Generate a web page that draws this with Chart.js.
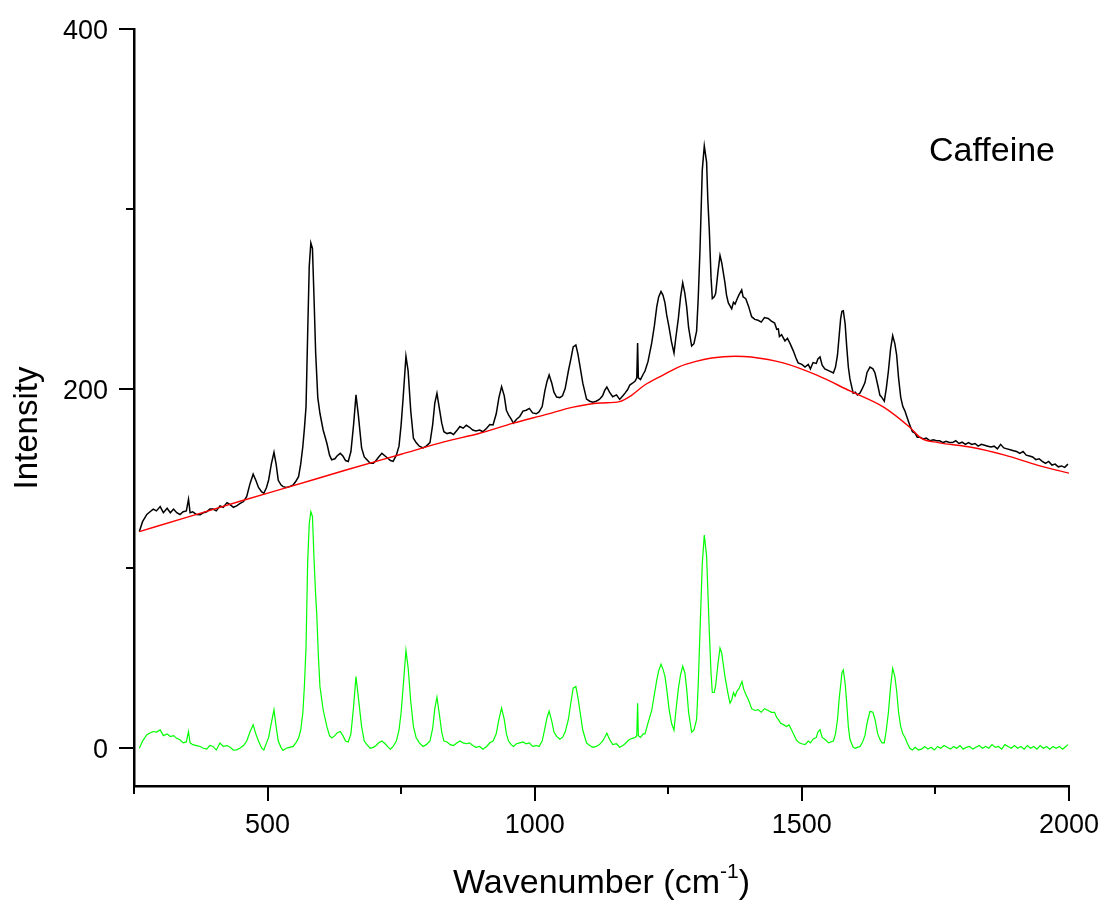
<!DOCTYPE html>
<html lang="en">
<head>
    <meta charset="UTF-8">
    <title>Caffeine Raman spectrum</title>
    <script src="https://cdn.jsdelivr.net/npm/chart.js"></script>
    <style>
        body { margin: 0; background: #fff; }
        #spectrum { display: block; }
    </style>
</head>
<body>
    <canvas id="spectrum" width="1103" height="901"></canvas>

    <script>
        // measured spectrum (black)
        const rawX = [260, 266, 274, 280, 286, 292, 299, 305, 312, 318, 324, 330, 336, 342, 348, 352, 355, 360, 367, 374,
            380, 386, 392, 398, 404, 411, 417, 424, 430, 436, 442, 448, 455, 461, 467, 473, 478, 483, 489, 493,
            498, 502, 507, 512, 516, 520, 525, 529, 535, 541, 548, 553, 558, 562, 566, 569, 572, 575, 578, 581,
            584, 587, 590, 594, 598, 604, 611, 616, 620, 626, 630, 636, 641, 646, 651, 656, 661, 665.5, 670, 676,
            681, 686, 692, 698, 703, 708, 714, 720, 726, 730, 735, 741, 746, 750, 754, 759, 763, 768, 773, 778,
            784, 791, 797, 804, 809, 813, 817, 821, 826, 830, 836, 842, 848, 855, 860, 866, 872, 878, 884, 890,
            897, 903, 910, 916, 922, 928, 933, 938, 943, 947, 951, 956, 960, 966, 972, 978, 984, 990, 996, 1003,
            1008, 1014, 1019, 1023, 1027, 1032, 1036, 1041, 1047, 1052, 1057, 1063, 1068, 1072, 1077, 1081, 1085, 1090, 1097, 1103,
            1109, 1115, 1121, 1127, 1131, 1135, 1140, 1146, 1153, 1159, 1165, 1169, 1174, 1178, 1183, 1188, 1191, 1192.6, 1194, 1198,
            1203, 1206.4, 1212, 1219, 1224, 1228.4, 1232, 1236.4, 1240, 1243.8, 1247, 1251.3, 1256, 1260.7, 1264, 1268.8, 1273, 1277, 1281, 1284.4,
            1288, 1293.7, 1298, 1303, 1306, 1309.3, 1313.6, 1317.4, 1321.7, 1324, 1326.8, 1330, 1332.4, 1336, 1338.7, 1343, 1346.8, 1350, 1356, 1359,
            1362.4, 1368.7, 1372, 1375, 1379, 1382, 1387.4, 1390, 1395, 1400, 1406, 1412, 1418, 1424, 1430, 1437, 1443, 1449, 1453, 1456,
            1458, 1462, 1468.4, 1473, 1478, 1484, 1489, 1493, 1500, 1505.9, 1512, 1516, 1521, 1527, 1530, 1534, 1538, 1543, 1550, 1559,
            1563, 1566.7, 1570, 1572.6, 1575, 1577.6, 1581, 1584, 1587, 1590, 1596, 1600, 1604, 1608.8, 1613, 1618, 1622, 1627.5, 1633, 1636.9,
            1642, 1646, 1650, 1654.3, 1658, 1662, 1666, 1670, 1674, 1677.4, 1681, 1685, 1689, 1693, 1697, 1702, 1707, 1711.7, 1716, 1721,
            1727, 1733, 1740, 1746, 1752, 1758, 1764, 1770, 1776, 1782, 1788, 1794, 1800, 1806, 1812, 1818, 1824, 1830, 1836, 1842,
            1848, 1854, 1860, 1866, 1872, 1878, 1884, 1890, 1896, 1902, 1908, 1914, 1920, 1926, 1932, 1938, 1944, 1950, 1956, 1962,
            1968, 1974, 1980, 1986, 1992, 1998];
        const rawY = [120.5, 126, 130, 131.5, 133, 132, 134.4, 131, 133.5, 131, 133, 131, 130, 131.5, 132, 138.5, 131, 131.5, 130, 129.8,
            131, 131.5, 133, 133, 132, 134.8, 134, 136.6, 135.5, 134, 134.8, 136, 137.2, 140, 147, 152.4, 149, 145, 142.5, 141.8,
            145, 149.2, 158, 164.6, 158, 149, 146.5, 145.5, 145, 145.5, 146.5, 148.5, 151, 158, 167.8, 178, 190, 230, 268, 281,
            278, 250, 220, 195, 186.3, 177, 169.6, 163, 160.4, 161, 162.5, 164, 162.5, 160, 159.5, 165, 180, 196.5, 185, 167,
            162, 160.4, 158.5, 158.5, 160, 162, 164, 162.5, 161, 160, 159.5, 163, 168, 180, 196, 218, 210, 187.5, 172.4, 170,
            168, 167, 168, 170, 180, 192, 197.4, 190, 180.8, 176, 175, 175.5, 174.5, 177, 178.9, 178, 179.7, 178.5, 177, 176.5,
            177, 176, 178, 180, 179.8, 186, 195, 201.1, 196, 188, 185.4, 183, 180.8, 183, 184.5, 187.5, 188, 189, 186.5, 186,
            187, 190, 198.7, 204, 207.6, 203, 198, 195.3, 195, 196, 200, 209.8, 217, 223.2, 224.3, 219, 212, 203, 194.2, 193,
            192.5, 193, 194, 196, 199, 200.9, 198, 195.5, 196.5, 194, 196, 197.5, 199.5, 202, 203, 204.2, 206, 225.4, 206, 205,
            208, 209.8, 215, 225.4, 235, 245.5, 251, 254, 252, 247.7, 241, 234.3, 226, 219.8, 228, 238.9, 251, 258.9, 253, 245.5,
            234, 223.7, 225, 232, 250, 276.8, 321.5, 335, 326, 305, 288, 262, 250, 251, 253, 265, 274, 270, 259, 252,
            247.7, 244.4, 248, 247, 250, 252, 254.9, 251, 250, 246, 240, 238.5, 238, 237, 239.5, 239, 237.5, 236.5, 233, 233.2,
            229, 230, 226.5, 228, 225, 221, 217, 214.3, 213.5, 212, 213.5, 211, 214.5, 214, 216.5, 217.6, 213, 211, 210, 208.7,
            212, 218.7, 230, 238.9, 243, 243.3, 236, 223.2, 212, 205.4, 197.5, 198, 196.5, 197.5, 200, 203.2, 209, 212, 211, 208.7,
            202, 196.4, 195, 193, 200, 209.8, 222, 229.5, 225, 218.7, 206, 195.3, 190, 187.5, 184, 179.7, 176, 175.2, 173, 173,
            172, 172.5, 171, 171.5, 171, 171, 170, 170.7, 170, 170, 171, 169.5, 170.2, 169, 170, 169, 169.5, 168, 169, 168.5,
            168, 167.5, 168, 166.5, 169, 167, 166.5, 166, 165.5, 165, 164, 165, 163, 162.5, 162, 160.5, 161, 159.5, 158.4, 159.5,
            157.5, 158, 156.5, 157, 156.2, 158];

        // fitted background (red)
        const baseX = [260, 350, 450, 542, 650, 750, 832, 897, 960, 1020, 1072, 1122, 1159, 1180, 1206, 1240, 1269, 1300, 1331, 1375,
            1405, 1465, 1527, 1590, 1653, 1702, 1724, 1755, 1817, 1880, 1942, 2000];
        const baseY = [120.5, 128.5, 137.5, 145.5, 155, 163.5, 170.5, 175.2, 180.8, 185.5, 189.7, 192, 192.8, 196, 202, 207.5, 212, 215, 217, 218,
            217.6, 214.3, 207.6, 198.7, 189.7, 178.5, 172.3, 170, 167.4, 163, 157.3, 153];

        // background-subtracted spectrum (green)
        const corrX = [260, 266, 274, 280, 286, 292, 299, 305, 312, 318, 324, 330, 336, 342, 348, 352, 355, 360, 367, 374,
            380, 386, 392, 398, 404, 411, 417, 424, 430, 436, 442, 448, 455, 461, 467, 473, 478, 483, 489, 493,
            498, 502, 507, 512, 516, 520, 525, 529, 535, 541, 548, 553, 558, 562, 566, 569, 572, 575, 578, 581,
            584, 587, 590, 592, 595, 598, 604, 611, 616, 620, 626, 630, 636, 641, 646, 651, 656, 661, 665.5, 670,
            676, 681, 686, 692, 698, 703, 708, 714, 720, 726, 730, 735, 741, 746, 750, 754, 759, 763, 768, 773,
            778, 784, 791, 797, 804, 809, 813, 817, 821, 826, 830, 836, 842, 848, 855, 860, 866, 872, 878, 884,
            890, 897, 903, 910, 916, 922, 928, 933, 938, 943, 947, 951, 956, 960, 966, 972, 978, 984, 990, 996,
            1003, 1008, 1014, 1019, 1023, 1027, 1032, 1036, 1041, 1047, 1052, 1057, 1063, 1068, 1072, 1077, 1081, 1085, 1090, 1097,
            1103, 1109, 1115, 1121, 1127, 1131, 1135, 1140, 1146, 1153, 1159, 1165, 1169, 1174, 1178, 1183, 1188, 1191, 1192.6, 1194,
            1198, 1203, 1206.4, 1212, 1219, 1224, 1228.4, 1232, 1236.4, 1240, 1243.8, 1247, 1251.3, 1256, 1260.7, 1264, 1268.8, 1273, 1277, 1281,
            1284.4, 1288, 1293.7, 1298, 1303, 1306, 1309.3, 1313.6, 1317.4, 1321.7, 1324, 1326.8, 1330, 1332.4, 1336, 1338.7, 1343, 1346.8, 1350, 1356,
            1362, 1365.5, 1368.7, 1372, 1375, 1379, 1382, 1388, 1391, 1395, 1400, 1406, 1412, 1418, 1424, 1430, 1437, 1443, 1449, 1453,
            1456, 1460, 1466, 1471.5, 1476, 1481, 1486, 1490, 1495, 1500, 1506, 1512, 1516, 1521, 1527, 1530, 1534, 1538, 1543, 1550,
            1559, 1563, 1566.7, 1570, 1572.6, 1575, 1577.6, 1581, 1584, 1587, 1590, 1596, 1600, 1604, 1608.8, 1613, 1618, 1622, 1627.5, 1633,
            1636.9, 1642, 1646, 1650, 1654.3, 1658, 1662, 1666, 1670, 1674, 1677.4, 1681, 1685, 1689, 1693, 1697, 1702, 1707, 1712, 1718,
            1724, 1730, 1736, 1742, 1748, 1754, 1760, 1766, 1772, 1778, 1784, 1790, 1796, 1802, 1808, 1814, 1820, 1826, 1832, 1838,
            1844, 1850, 1856, 1862, 1868, 1874, 1880, 1886, 1892, 1898, 1904, 1910, 1916, 1922, 1928, 1934, 1940, 1946, 1952, 1958,
            1964, 1970, 1976, 1982, 1988, 1994, 1998];
        const corrY = [0, 4, 7.5, 8.5, 9.3, 9, 10.2, 7, 8, 6.5, 7, 5.5, 4.7, 3, 3.5, 9.3, 3, 2, 1.5, 1,
            0, -0.5, 1.5, 1, -1, 2.9, 1, 1.5, 0.5, -1, -0.9, 0, 1.5, 4, 9, 13.1, 8, 4, 0, -1,
            3, 6, 14, 21.4, 12, 4, 0.5, -1.2, 0, 0.5, 1, 3, 5.7, 10, 19.6, 35, 56.6, 103, 125, 131.6,
            129, 105, 85, 75, 52, 34.4, 21.4, 12, 7, 5.7, 7, 8.5, 9.3, 7, 4, 3.5, 8, 23.3, 39.9, 28,
            12, 4, 2, 0, 0.5, 1.5, 3, 4, 2.5, 0.5, -0.5, 1, 4, 10, 20, 35, 54.4, 45, 26, 12,
            6, 3, 1, 2, 4, 11, 22, 28.4, 20, 9, 4, 3.5, 2, 1.5, 3, 4, 3, 2.5, 3, 1.5,
            0.5, 1, -0.5, 1, 3, 4, 8, 16, 22.3, 16, 8, 4, 2, 1, 2.5, 3, 3.5, 2.5, 3, 1,
            1.5, 1, 4, 11, 17, 20.6, 15, 9, 6.6, 5, 6, 9, 16, 26, 33.4, 34.4, 28, 20, 10, 3,
            1.5, 0.5, 1, 2, 4, 6, 8.4, 5, 2, 2.5, 0.6, 1.5, 2.5, 4, 5, 5.5, 6, 7, 25, 7,
            6, 8, 8, 14, 21, 30, 37.9, 43, 46.7, 44, 40, 33, 22, 14, 10, 20, 33, 41, 45.6, 42,
            33, 20, 9, 10, 16, 35, 64.6, 102.6, 118.5, 107, 88, 64.6, 42, 31, 31, 35, 47, 55.7, 53, 40,
            30, 25.1, 27, 31, 29, 32, 33, 37.1, 33, 30, 27, 22, 21, 21.5, 20, 22, 21, 20, 20, 17,
            16, 14, 13, 12.1, 13, 10, 7, 4.5, 3, 2.5, 2, 4, 3, 5, 6, 9, 10.3, 6, 5, 3,
            4, 8, 16, 28, 35, 42, 43.5, 36, 25, 12, 5, 0.5, 0, 0.5, 1, 3, 7, 14, 20.5, 20,
            16, 8, 5, 3, 3, 10, 20, 34, 44.5, 40, 32, 20, 12, 8, 6, 3, 0, -1, 0.5, -1,
            -0.5, 1, -0.5, 0.5, -1, 1, 0, 1.5, 0.5, -0.5, 1, 0, 1.5, -0.5, 0.5, 1, -0.5, 0.5, 1.5, 0,
            1, 0, 2, 0.5, 1, -0.5, 2, 1, 0, 1.5, 0, 1, -0.5, 1.5, 0, 1, -0.5, 1.5, 0, 1,
            -0.5, 1, 0, 1, -0.5, 1, 2];

        const xTicks = [250, 500, 750, 1000, 1250, 1500, 1750, 2000];
        const xLabelled = [500, 1000, 1500, 2000];
        const yTicks = [0, 100, 200, 300, 400];
        const yLabelled = [0, 200, 400];

        const toPoints = (xs, ys) => xs.map((x, i) => ({ x: x, y: ys[i] }));
        const FONT = "Arial, 'Liberation Sans', sans-serif";

        // tick marks, tick labels and free text
        const decorations = {
            id: 'decorations',
            afterDraw(chart) {
                const ctx = chart.ctx;
                const x = chart.scales.x;
                const y = chart.scales.y;
                ctx.save();
                ctx.strokeStyle = '#000';
                ctx.lineWidth = 2;
                ctx.beginPath();
                xTicks.forEach(v => {
                    const px = Math.round(x.getPixelForValue(v));
                    const len = xLabelled.includes(v) ? 15 : 8;
                    ctx.moveTo(px, x.top);
                    ctx.lineTo(px, x.top + len);
                });
                yTicks.forEach(v => {
                    const py = Math.round(y.getPixelForValue(v));
                    const len = yLabelled.includes(v) ? 15 : 8;
                    ctx.moveTo(y.right, py);
                    ctx.lineTo(y.right - len, py);
                });
                ctx.stroke();

                ctx.fillStyle = '#000';
                ctx.textBaseline = 'alphabetic';
                ctx.font = '27px ' + FONT;
                ctx.textAlign = 'center';
                xLabelled.forEach(v => {
                    ctx.fillText(String(v), x.getPixelForValue(v), x.top + 47);
                });
                ctx.textAlign = 'right';
                yLabelled.forEach(v => {
                    ctx.fillText(String(v), 108, y.getPixelForValue(v) + 10);
                });

                // x axis title with superscript
                const big = '34px ' + FONT;
                const small = '21px ' + FONT;
                ctx.font = big;
                const w1 = ctx.measureText('Wavenumber (cm').width;
                const w3 = ctx.measureText(')').width;
                ctx.font = small;
                const w2 = ctx.measureText('-1').width;
                let tx = (x.left + x.right) / 2 - (w1 + w2 + w3) / 2;
                ctx.textAlign = 'left';
                ctx.font = big;
                ctx.fillText('Wavenumber (cm', tx, 893);
                tx += w1;
                ctx.font = small;
                ctx.fillText('-1', tx, 878);
                tx += w2;
                ctx.font = big;
                ctx.fillText(')', tx, 893);

                // y axis title
                ctx.save();
                ctx.translate(37, 428);
                ctx.rotate(-Math.PI / 2);
                ctx.textAlign = 'center';
                ctx.font = '33px ' + FONT;
                ctx.fillText('Intensity', 0, 0);
                ctx.restore();

                // sample name
                ctx.textAlign = 'left';
                ctx.font = '34px ' + FONT;
                ctx.fillText('Caffeine', 929, 161);
                ctx.restore();
            }
        };

        new Chart(document.getElementById('spectrum'), {
            type: 'line',
            data: {
                datasets: [
                    {
                        label: 'Background',
                        data: toPoints(baseX, baseY),
                        borderColor: '#ff0000',
                        borderWidth: 1.4,
                        pointRadius: 0,
                        cubicInterpolationMode: 'monotone'
                    },
                    {
                        label: 'Raw',
                        data: toPoints(rawX, rawY),
                        borderColor: '#000000',
                        borderWidth: 1.5,
                        pointRadius: 0,
                        tension: 0
                    },
                    {
                        label: 'Corrected',
                        data: toPoints(corrX, corrY),
                        borderColor: '#00ff00',
                        borderWidth: 1.2,
                        pointRadius: 0,
                        tension: 0
                    }
                ]
            },
            options: {
                responsive: false,
                animation: false,
                layout: { padding: { left: 0, right: 34, top: 29, bottom: 0 } },
                plugins: {
                    legend: { display: false },
                    tooltip: { enabled: false }
                },
                scales: {
                    x: {
                        type: 'linear',
                        min: 250,
                        max: 2000,
                        afterFit: s => { s.height = 115; },
                        grid: { display: false },
                        border: { display: true, color: '#000', width: 2.5 },
                        ticks: { display: false }
                    },
                    y: {
                        type: 'linear',
                        min: -21,
                        max: 400,
                        afterFit: s => { s.width = 134; },
                        grid: { display: false },
                        border: { display: true, color: '#000', width: 2.5 },
                        ticks: { display: false }
                    }
                }
            },
            plugins: [decorations]
        });
    </script>
</body>
</html>
